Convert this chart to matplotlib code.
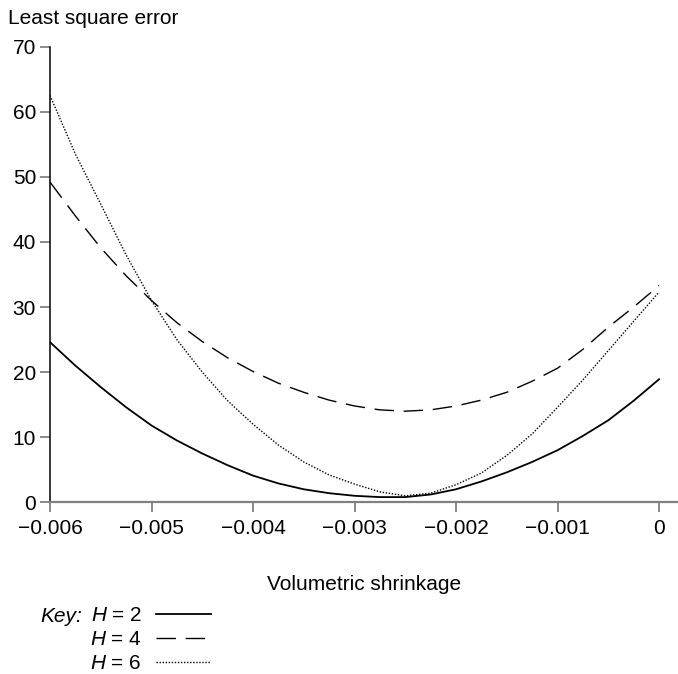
import matplotlib
matplotlib.use('agg')
import matplotlib.pyplot as plt

# shrinkage values (x1e-3) and least square error
shrinkage = [-6.0, -5.75, -5.5, -5.25, -5.0, -4.75, -4.5, -4.25, -4.0, -3.75, -3.5, -3.25, -3.0,
             -2.75, -2.5, -2.25, -2.0, -1.75, -1.5, -1.25, -1.0, -0.75, -0.5, -0.25, 0.0]
err_h2 = [24.6, 21.0, 17.7, 14.6, 11.8, 9.5, 7.5, 5.7, 4.1, 2.9, 2.0, 1.4, 1.0,
          0.8, 0.8, 1.2, 2.0, 3.2, 4.6, 6.2, 8.0, 10.2, 12.6, 15.6, 18.9]
err_h4 = [49.2, 44.0, 39.1, 34.8, 31.0, 27.6, 24.7, 22.2, 20.1, 18.3, 16.9, 15.7, 14.8,
          14.2, 14.0, 14.2, 14.8, 15.7, 16.9, 18.6, 20.6, 23.5, 26.9, 30.0, 33.3]
err_h6 = [62.5, 53.5, 45.8, 38.0, 31.0, 25.0, 20.0, 15.6, 12.0, 8.8, 6.2, 4.2, 2.8,
          1.6, 1.0, 1.4, 2.7, 4.5, 7.2, 10.5, 14.6, 18.8, 23.3, 27.8, 32.3]
xticks = [-0.006, -0.005, -0.004, -0.003, -0.002, -0.001, 0]
xtick_labels = ['\u22120.006', '\u22120.005', '\u22120.004', '\u22120.003', '\u22120.002', '\u22120.001', '0']
yticks = [0, 10, 20, 30, 40, 50, 60, 70]
key_labels = [r'$H$ = 2', r'$H$ = 4', r'$H$ = 6']

plt.rcParams['font.family'] = ['Liberation Sans', 'DejaVu Sans']
plt.rcParams['mathtext.fontset'] = 'custom'
plt.rcParams['mathtext.it'] = 'Liberation Sans:italic'
plt.rcParams['mathtext.rm'] = 'Liberation Sans'

FS = 15

fig = plt.figure(figsize=(6.78, 6.74), dpi=100)
ax = fig.add_axes([50 / 678, 1 - 502.3 / 674, 628 / 678, (502.3 - 46.7) / 674])

x = [v / 1000 for v in shrinkage]
l2, = ax.plot(x, err_h2, color='black', lw=1.3, linestyle='-')
l4, = ax.plot(x, err_h4, color='black', lw=1.0, linestyle=(0, (14, 7)))
l6, = ax.plot(x, err_h6, color='black', lw=1.0, linestyle=(0, (1, 1.2)))

ax.set_xlim(-0.006, 0.000187)
ax.set_ylim(0, 70)
ax.set_xticks(xticks)
ax.set_xticklabels(xtick_labels)
ax.set_yticks(yticks)
ax.tick_params(axis='both', labelsize=FS, colors='#777777', labelcolor='black', length=7, width=1.2)
ax.tick_params(axis='x', pad=5)
ax.tick_params(axis='y', pad=3)
for s in ['top', 'right']:
    ax.spines[s].set_visible(False)
ax.spines['left'].set_color('black')
ax.spines['left'].set_linewidth(1.1)
ax.spines['bottom'].set_color('#808080')
ax.spines['bottom'].set_linewidth(1.6)

fig.text(8 / 678, 1 - 18 / 674, 'Least square error', fontsize=FS, va='center', ha='left')
ax.set_xlabel('Volumetric shrinkage', fontsize=FS, labelpad=27)

# key
fig.text(40 / 678, 1 - 616 / 674, 'Key:', fontsize=FS, style='italic', ha='left', va='center')
fig.legend([l2, l4, l6], key_labels,
           loc='upper left', bbox_to_anchor=(90 / 678, 1 - 606 / 674),
           frameon=False, markerfirst=False, fontsize=FS, handlelength=2.6,
           handletextpad=0.7, labelspacing=0.25, borderpad=0, borderaxespad=0)

fig.savefig('out.png', dpi=100)
